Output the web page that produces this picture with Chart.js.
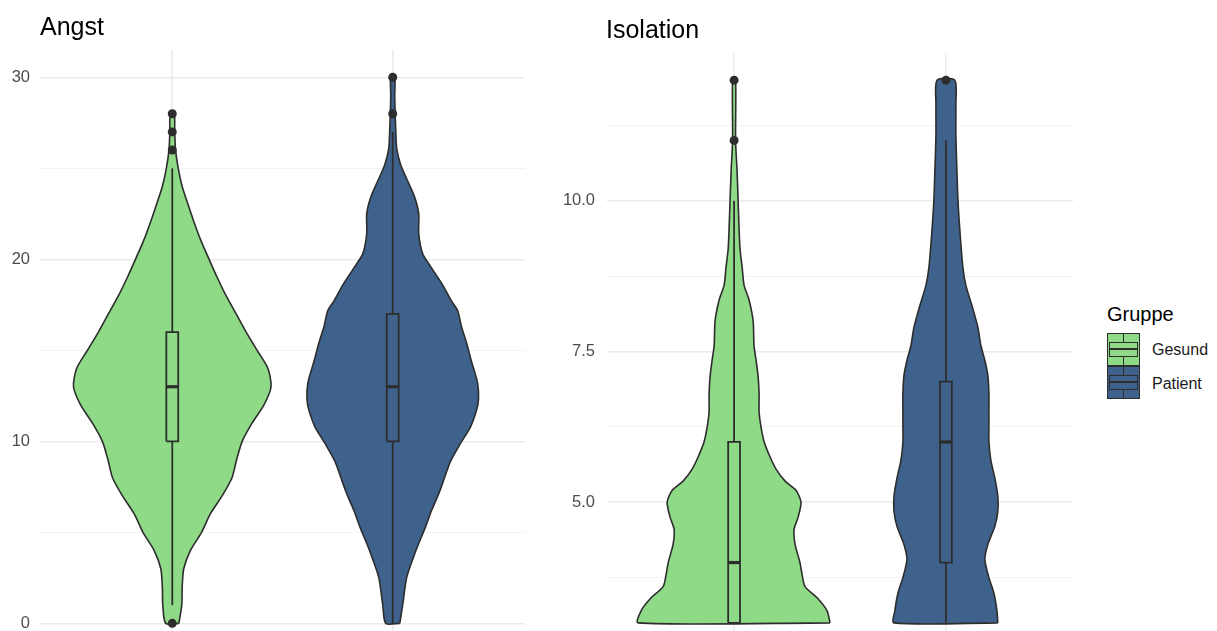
<!DOCTYPE html>
<html>
<head>
<meta charset="utf-8">
<title>Angst / Isolation</title>
<script src="https://cdn.jsdelivr.net/npm/chart.js@4.4.0/dist/chart.umd.min.js"></script>
<style>
body { margin: 0; background: #fff; font-family: "Liberation Sans", Arial, sans-serif; }
#wrap { position: relative; width: 1217px; height: 631px; overflow: hidden; background: #fff; }
canvas { position: absolute; top: 0; }
#angst-chart { left: 0; }
#iso-chart { left: 545px; }
.title { position: absolute; font-size: 25px; line-height: 25px; color: #000; }
.leg-title { position: absolute; left: 1107px; top: 304px; font-size: 20px; line-height: 20px; color: #000; }
.leg-label { position: absolute; left: 1152px; font-size: 16px; line-height: 16px; color: #1a1a1a; }
.key { position: absolute; left: 1107px; width: 33px; height: 33px; border: 1.5px solid #2d2d2d; box-sizing: border-box; }
.key .bx { position: absolute; left: 1px; right: 1px; top: 8px; height: 15px; border: 1.5px solid #2d2d2d; box-sizing: border-box; }
.key .bx::after { content: ""; position: absolute; left: 0; right: 0; top: 5px; height: 2px; background: #2d2d2d; }
.key .wh { position: absolute; left: 14.5px; width: 1.5px; background: #2d2d2d; }
</style>
</head>
<body>
<div id="wrap">
  <canvas id="angst-chart" width="525" height="631"></canvas>
  <canvas id="iso-chart" width="528" height="631"></canvas>
  <div class="title" style="left:40px; top:14px;">Angst</div>
  <div class="title" style="left:606px; top:17px;">Isolation</div>
  <div class="leg-title">Gruppe</div>
  <div class="key" style="top:333px; background:#8fda86;"><div class="wh" style="top:0; height:8px;"></div><div class="bx"></div><div class="wh" style="top:23px; bottom:0;"></div></div>
  <div class="key" style="top:366px; background:#3e628c;"><div class="wh" style="top:0; height:8px;"></div><div class="bx"></div><div class="wh" style="top:23px; bottom:0;"></div></div>
  <div class="leg-label" style="top:342px;">Gesund</div>
  <div class="leg-label" style="top:376px;">Patient</div>
</div>
<script>
// groups
const groups = ["Gesund", "Patient"];
const groupPos = [1, 2];
const groupColors = ["#8fda86", "#3e628c"];
const ink = "#2d2d2d";

// Angst: violin outline (value levels and half widths in category units)
const angstGesundY = [0, 1, 2, 3, 4, 5, 6, 7, 8, 9, 10, 11, 12, 13, 14, 15, 16, 17, 18, 19, 20, 21, 22, 23, 24, 25, 26, 27, 28];
const angstGesundW = [0.03, 0.043, 0.045, 0.052, 0.082, 0.133, 0.172, 0.226, 0.271, 0.292, 0.317, 0.362, 0.416, 0.448, 0.434, 0.385, 0.335, 0.29, 0.244, 0.204, 0.167, 0.131, 0.1, 0.072, 0.045, 0.027, 0.015, 0.011, 0.009];
const angstPatientY = [0, 1, 2.5, 3.5, 4.4, 5.3, 6.2, 7.1, 8, 8.9, 9.9, 10.8, 11.7, 12.3, 13.2, 14.4, 15.4, 16.3, 17.2, 17.7, 18.6, 19.6, 20.3, 21.4, 22.5, 23.4, 24.3, 25.2, 26.1, 27, 28, 29, 30];
const angstPatientW = [0.032, 0.045, 0.063, 0.09, 0.118, 0.149, 0.176, 0.208, 0.235, 0.262, 0.308, 0.353, 0.38, 0.389, 0.385, 0.357, 0.335, 0.312, 0.294, 0.267, 0.226, 0.172, 0.136, 0.118, 0.118, 0.1, 0.068, 0.036, 0.018, 0.014, 0.011, 0.009, 0.009];
// Angst: boxplot stats per group
const angstQ1 = [10, 10];
const angstMed = [13, 13];
const angstQ3 = [16, 17];
const angstLo = [1, 0];
const angstHi = [25, 27];
const angstOutliers = [[0, 26, 27, 28], [28, 30]];
const angstTicks = [0, 10, 20, 30];
const angstMinor = [5, 15, 25];

// Isolation
const isoGesundY = [3, 3.2, 3.4, 3.6, 3.8, 4, 4.3, 4.55, 4.75, 5, 5.2, 5.35, 5.55, 5.75, 6, 6.25, 6.5, 6.8, 7.1, 7.35, 7.6, 8, 8.35, 8.6, 8.9, 9.2, 9.5, 10, 10.5, 11, 12];
const isoGesundW = [0.453, 0.439, 0.396, 0.335, 0.321, 0.311, 0.288, 0.283, 0.302, 0.316, 0.292, 0.241, 0.198, 0.17, 0.142, 0.127, 0.118, 0.118, 0.113, 0.104, 0.094, 0.09, 0.071, 0.047, 0.038, 0.028, 0.024, 0.019, 0.014, 0.007, 0.007];
const isoPatientY = [3, 3.2, 3.5, 3.75, 4.05, 4.3, 4.6, 4.85, 5.1, 5.4, 5.7, 6, 6.25, 6.5, 6.8, 7.1, 7.35, 7.6, 7.9, 8.2, 8.6, 8.9, 9.5, 10, 10.5, 11.1, 11.6, 12];
const isoPatientW = [0.245, 0.241, 0.226, 0.203, 0.184, 0.198, 0.231, 0.245, 0.245, 0.231, 0.212, 0.203, 0.203, 0.203, 0.203, 0.198, 0.184, 0.165, 0.151, 0.128, 0.094, 0.08, 0.066, 0.057, 0.052, 0.047, 0.047, 0.042];
const isoQ1 = [3, 4];
const isoMed = [4, 6];
const isoQ3 = [6, 7];
const isoLo = [3, 3];
const isoHi = [10, 11];
const isoOutliers = [[11, 12], [12]];
const isoTicks = [5, 7.5, 10];
const isoMinor = [3.75, 6.25, 8.75, 11.25];

Chart.defaults.font.family = '"Liberation Sans", Arial, sans-serif';

// one group = violin + box + whiskers + median + outliers
function groupSets(c, ys, ws, q1, med, q3, lo, hi, outs, color, bh) {
    const right = ys.map((y, i) => ({x: c + ws[i], y: y}));
    const left = ys.map((y, i) => ({x: c - ws[i], y: y})).reverse();
    const base = {pointRadius: 0, tension: 0, borderColor: ink, fill: false};
    return [
        {...base, data: [...right, ...left, right[0]], fill: 'shape', backgroundColor: color, borderWidth: 1.6, tension: 0.25, order: 5},
        {...base, data: [{x: c - bh, y: q1}, {x: c + bh, y: q1}, {x: c + bh, y: q3}, {x: c - bh, y: q3}, {x: c - bh, y: q1}],
            fill: 'shape', backgroundColor: color, borderWidth: 1.8, order: 4},
        {...base, data: [{x: c, y: lo}, {x: c, y: q1}], borderWidth: 1.8, order: 3},
        {...base, data: [{x: c, y: q3}, {x: c, y: hi}], borderWidth: 1.8, order: 3},
        {...base, data: [{x: c - bh, y: med}, {x: c + bh, y: med}], borderWidth: 3.2, order: 2},
        {data: outs.map(v => ({x: c, y: v})), showLine: false, pointRadius: 4.5, pointBackgroundColor: ink, pointBorderWidth: 0, order: 1}
    ];
}

function makeChart(id, sets, yMin, yMax, major, minor, fmt, axisW, labelPad, top) {
    return new Chart(document.getElementById(id), {
        type: 'line',
        data: {datasets: sets},
        options: {
            responsive: false,
            animation: false,
            events: [],
            layout: {autoPadding: false, padding: {top: top, left: 0, right: 0, bottom: 0}},
            plugins: {legend: {display: false}, tooltip: {enabled: false}},
            scales: {
                x: {
                    type: 'linear', min: 0.4, max: 2.6,
                    afterBuildTicks: s => { s.ticks = groupPos.map(v => ({value: v})); },
                    ticks: {display: false},
                    grid: {color: '#ebebeb', lineWidth: 1.6, drawTicks: false},
                    border: {display: false},
                    afterFit: s => { s.height = 0; s.paddingLeft = 0; s.paddingRight = 0; }
                },
                y: {
                    type: 'linear', min: yMin, max: yMax,
                    afterBuildTicks: s => { s.ticks = [...major, ...minor].sort((a, b) => a - b).map(v => ({value: v})); },
                    ticks: {
                        autoSkip: false, padding: labelPad, color: '#4d4d4d', font: {size: 16.5},
                        callback: v => major.includes(v) ? fmt(v) : ''
                    },
                    grid: {
                        drawTicks: false,
                        color: c => major.includes(c.tick.value) ? '#ebebeb' : '#f3f3f3',
                        lineWidth: c => major.includes(c.tick.value) ? 1.6 : 1
                    },
                    border: {display: false},
                    afterFit: s => { s.width = axisW; s.paddingTop = 0; s.paddingBottom = 0; }
                }
            }
        }
    });
}

const angstSets = [
    ...groupSets(groupPos[0], angstGesundY, angstGesundW, angstQ1[0], angstMed[0], angstQ3[0], angstLo[0], angstHi[0], angstOutliers[0], groupColors[0], 0.027),
    ...groupSets(groupPos[1], angstPatientY, angstPatientW, angstQ1[1], angstMed[1], angstQ3[1], angstLo[1], angstHi[1], angstOutliers[1], groupColors[1], 0.027)
];
const isoSets = [
    ...groupSets(groupPos[0], isoGesundY, isoGesundW, isoQ1[0], isoMed[0], isoQ3[0], isoLo[0], isoHi[0], isoOutliers[0], groupColors[0], 0.028),
    ...groupSets(groupPos[1], isoPatientY, isoPatientW, isoQ1[1], isoMed[1], isoQ3[1], isoLo[1], isoHi[1], isoOutliers[1], groupColors[1], 0.028)
];

makeChart('angst-chart', angstSets, -0.42, 31.5, angstTicks, angstMinor, v => String(v), 40, 10, 50);
makeChart('iso-chart', isoSets, 2.865, 12.45, isoTicks, isoMinor, v => v.toFixed(1), 62, 12, 53);
</script>
</body>
</html>
